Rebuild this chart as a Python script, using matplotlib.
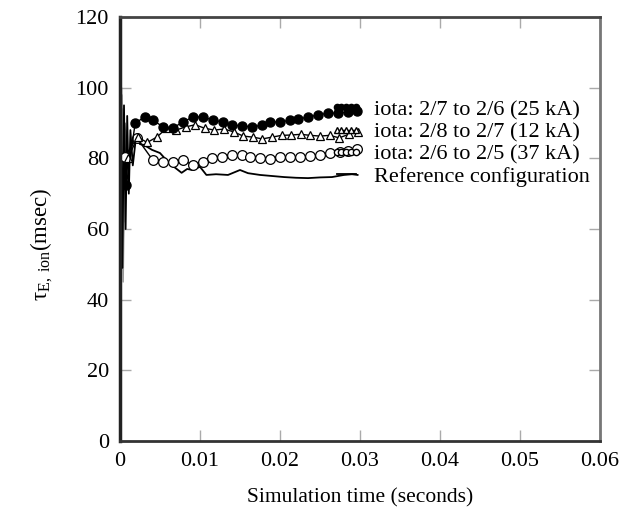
import matplotlib
matplotlib.use("Agg")
import matplotlib.pyplot as plt
from matplotlib.lines import Line2D
import numpy as np

plt.rcParams['font.family'] = ['Liberation Serif', 'DejaVu Serif']
plt.rcParams['mathtext.fontset'] = 'custom'
plt.rcParams['mathtext.rm'] = 'Liberation Serif'
plt.rcParams['mathtext.it'] = 'Liberation Serif:italic'

# ---- data ----
# iota: 2/7 to 2/6 (25 kA)  -- filled circles
t_a_early = [0.0000, 0.0002, 0.0004, 0.0006, 0.0008]
v_a_early = [40.0, 98.0, 55.0, 90.0, 72.5]
t_a = [0.0008, 0.0019, 0.0031, 0.0041, 0.0054, 0.0066, 0.0079, 0.0091, 0.0104,
       0.0116, 0.0129, 0.0140, 0.0152, 0.0165, 0.0178, 0.0188, 0.0200, 0.0213,
       0.0223, 0.0235, 0.0248, 0.0260, 0.0273, 0.0285, 0.0296]
v_a = [72.5, 90.0, 91.7, 90.8, 88.9, 88.6, 90.3, 91.7, 91.7, 90.8, 90.3, 89.4,
       89.2, 88.9, 89.4, 90.3, 90.3, 90.8, 91.1, 91.7, 92.3, 92.8, 92.8, 93.1, 93.4]

# iota: 2/8 to 2/7 (12 kA)  -- open triangles
t_b_early = [0.0000, 0.0003, 0.0005, 0.0007, 0.0010]
v_b_early = [50.0, 94.0, 62.0, 88.0, 80.0]
t_b = [0.0010, 0.0022, 0.0034, 0.0046, 0.0058, 0.0070, 0.0082, 0.0094, 0.0106,
       0.0118, 0.0130, 0.0142, 0.0154, 0.0166, 0.0178, 0.0190, 0.0202, 0.0214,
       0.0226, 0.0238, 0.0250, 0.0262, 0.0274, 0.0286, 0.0297]
v_b = [80.0, 86.0, 84.5, 86.0, 88.5, 88.0, 88.9, 89.5, 88.5, 88.0, 88.3, 87.5,
       86.3, 86.0, 85.5, 86.0, 86.5, 86.6, 86.8, 86.5, 86.3, 86.5, 85.8, 86.8, 87.5]

# iota: 2/6 to 2/5 (37 kA)  -- open circles
t_c_early = [0.0000, 0.0002, 0.0004, 0.0006]
v_c_early = [30.0, 100.0, 45.0, 80.4]
t_c = [0.0006, 0.0021, 0.0041, 0.0054, 0.0066, 0.0079, 0.0091, 0.0104, 0.0115,
       0.0128, 0.0140, 0.0153, 0.0163, 0.0175, 0.0188, 0.0200, 0.0213, 0.0225,
       0.0238, 0.0250, 0.0263, 0.0275, 0.0285, 0.0296]
v_c = [80.4, 85.8, 79.5, 79.0, 79.0, 79.5, 78.1, 79.0, 80.1, 80.4, 81.0, 81.0,
       80.4, 80.1, 79.8, 80.4, 80.4, 80.4, 80.7, 81.0, 81.5, 81.8, 82.1, 82.6]

# Reference configuration  -- plain line
t_d = [0.0000, 0.0001, 0.0003, 0.0005, 0.0007, 0.0009, 0.0011, 0.0013, 0.0016,
       0.0020, 0.0025, 0.0030, 0.0040, 0.0050, 0.0060, 0.0068, 0.0077, 0.0084,
       0.0090, 0.0100, 0.0108, 0.0120, 0.0135, 0.0150, 0.0160, 0.0175, 0.0190,
       0.0205, 0.0220, 0.0235, 0.0250, 0.0265, 0.0280, 0.0290, 0.0297]
v_d = [34.0, 103.0, 49.0, 95.0, 60.0, 92.0, 70.0, 88.0, 78.0, 86.0, 84.0, 83.8,
       82.4, 81.5, 79.0, 77.5, 75.9, 77.0, 76.7, 77.6, 75.3, 75.5, 75.3, 76.7,
       75.8, 75.3, 75.0, 74.7, 74.5, 74.4, 74.6, 74.7, 75.3, 75.5, 75.3]

labels = ["iota: 2/7 to 2/6 (25 kA)", "iota: 2/8 to 2/7 (12 kA)",
          "iota: 2/6 to 2/5 (37 kA)", "Reference configuration"]
x_ticks = [0, 0.01, 0.02, 0.03, 0.04, 0.05, 0.06]
x_tick_labels = ["0", "0.01", "0.02", "0.03", "0.04", "0.05", "0.06"]
y_ticks = [0, 20, 40, 60, 80, 100, 120]

FS = 16

# ---- figure ----
fig = plt.figure(figsize=(6.31, 5.14), dpi=100)
ax = fig.add_axes([120/631, 73/514, 480/631, 424/514])

# early spiky parts (lines only)
ax.plot(t_a_early, v_a_early, color='black', lw=1.0)
ax.plot(t_b_early, v_b_early, color='#555555', lw=1.0)
ax.plot(t_c_early, v_c_early, color='#999999', lw=1.0)

ax.plot(t_d, v_d, color='black', lw=1.3)
ax.plot(t_c, v_c, color='black', lw=1.0, marker='o', mfc='white', mec='black',
        ms=7, mew=0.9)
ax.plot(t_b, v_b, color='black', lw=1.0, marker='^', mfc='white', mec='black',
        ms=5.5, mew=0.9)
ax.plot(t_a, v_a, color='black', lw=1.0, marker='o', mfc='black', mec='black',
        ms=6.5)

ax.set_xlim(0, 0.06)
ax.set_ylim(0, 120)
ax.set_xticks(x_ticks)
ax.set_xticklabels(x_tick_labels)
ax.set_yticks(y_ticks)
ax.tick_params(direction='in', length=8, width=1, color='#aaaaaa',
               labelsize=FS, top=True, right=True, pad=8)

ax.spines['left'].set_linewidth(2.5)
ax.spines['left'].set_color('#222222')
ax.spines['bottom'].set_linewidth(2.0)
ax.spines['bottom'].set_color('#333333')
ax.spines['top'].set_linewidth(2.0)
ax.spines['top'].set_color('#444444')
ax.spines['right'].set_linewidth(2.0)
ax.spines['right'].set_color('#777777')

ax.set_xlabel("Simulation time (seconds)", fontsize=15.5, labelpad=12)
ax.set_ylabel(r"$\mathrm{τ}_{\mathrm{E,\ ion}}$(msec)", fontsize=16.5)
ax.yaxis.set_label_coords(-0.135, 0.465)

handles = [
    Line2D([], [], color='black', lw=1.0, marker='o', mfc='black', mec='black', ms=4.5),
    Line2D([], [], color='black', lw=1.0, marker='^', mfc='white', mec='black', ms=4.5),
    Line2D([], [], color='black', lw=1.0, marker='o', mfc='white', mec='black', ms=4.5),
    Line2D([], [], color='black', lw=1.3),
]
leg = ax.legend(handles, labels, loc='upper left', bbox_to_anchor=(0.4375, 0.805),
                frameon=False, fontsize=FS, numpoints=5, handlelength=1.45,
                handletextpad=0.55, labelspacing=0.07, borderaxespad=0,
                borderpad=0)

fig.savefig("out.png", dpi=100)
